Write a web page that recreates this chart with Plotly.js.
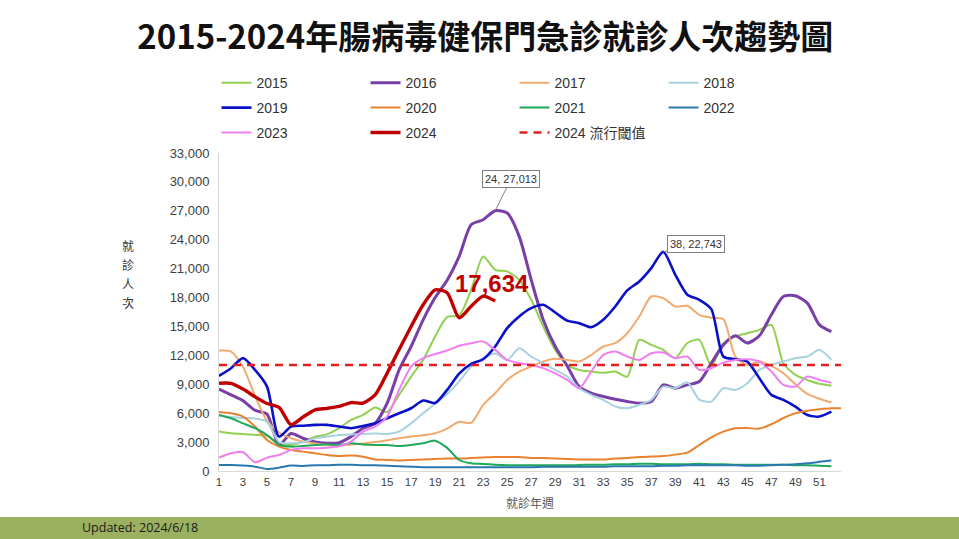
<!DOCTYPE html>
<html><head><meta charset="utf-8">
<script src="https://cdn.plot.ly/plotly-3.0.1.min.js"></script>
<style>html,body{margin:0;padding:0;background:#fff;}#chart{width:959px;height:539px;}</style>
</head><body><div id="chart"></div>
<script>
const weeks = [1,2,3,4,5,6,7,8,9,10,11,12,13,14,15,16,17,18,19,20,21,22,23,24,25,26,27,28,29,30,31,32,33,34,35,36,37,38,39,40,41,42,43,44,45,46,47,48,49,50,51,52,53];
const weekTicks = [1,3,5,7,9,11,13,15,17,19,21,23,25,27,29,31,33,35,37,39,41,43,45,47,49,51];
const yTicks = [0,3000,6000,9000,12000,15000,18000,21000,24000,27000,30000,33000];

const s2015 = [4090,3910,3850,3740,3640,2870,2700,3050,3560,3800,4440,5300,5820,6580,6100,7900,9800,11530,13950,16000,16150,18800,22270,20880,20710,19840,17770,14990,12570,11000,10490,10320,10200,10320,9800,13610,13090,12570,11710,13280,13610,10900,13200,13950,14300,14650,15170,11190,9970,9450,9050,8850];
const s2016 = [8500,7900,7300,6300,5900,2700,3900,3400,3000,2880,2940,3570,4440,4950,7030,10490,12920,15690,18000,19800,22270,25560,26080,27013,26770,24350,19840,15690,12920,10900,8760,8070,7730,7450,7210,7030,7210,8940,8590,8940,9280,11190,13090,14030,13280,14030,16210,18110,18180,17420,15170,14470];
const s2017 = [12500,12400,10800,7800,5200,4000,3400,3050,2850,2700,2650,2750,2850,3000,3200,3400,3570,3700,3910,4400,5100,5000,6860,8070,9450,10320,10840,11360,11640,11530,11360,12040,12920,13280,14300,16030,18110,17940,17070,17140,16210,15900,15760,11880,11000,11360,10900,10140,9000,8000,7500,7100];
const s2018 = [5700,5600,5500,5450,5100,3000,2870,2980,3390,3570,3740,3800,3850,3900,3850,4100,4950,5990,7000,8000,9280,10840,11710,12200,11500,12740,11880,11190,10490,9800,8590,7900,7380,6700,6510,6860,7380,8760,8590,9200,7400,7200,8590,8420,9110,10490,11010,11360,11710,11880,12570,11530];
const s2019 = [9870,10670,11710,10490,8760,3570,4600,4700,4790,4790,4610,4440,4680,4950,5470,5990,6510,7310,7050,8420,10100,11120,11600,12920,14820,16040,16900,17250,16450,15600,15340,14930,15690,17070,18740,19670,21060,22743,20360,18300,17770,16800,11880,11600,11360,9630,7900,7380,6680,5820,5650,6160];
const s2020 = [6090,5990,5650,4610,3220,2530,2180,2010,1840,1660,1560,1600,1490,1200,1150,1100,1150,1200,1250,1300,1300,1350,1400,1450,1450,1450,1350,1350,1300,1250,1200,1200,1200,1300,1350,1450,1500,1550,1700,1900,2700,3500,4090,4430,4450,4400,4850,5500,5990,6250,6400,6500,6510];
const s2021 = [5820,5470,4950,4440,3740,2700,2530,2600,2700,2770,2700,2870,2750,2700,2700,2600,2700,2870,3150,2400,1140,800,730,650,600,600,600,600,600,600,620,650,650,700,700,750,750,700,700,700,750,700,700,650,650,650,650,650,600,600,550,500];
const s2022 = [620,620,560,450,210,350,560,520,600,600,650,650,600,600,550,500,450,400,400,400,400,400,400,400,400,400,400,450,450,450,450,450,450,500,500,500,500,550,550,600,600,600,600,600,550,550,600,650,700,800,950,1100];
const s2023 = [1390,1840,1950,900,1390,1660,2180,2350,2350,2420,2560,3050,4090,4610,5640,8420,10840,11710,12150,12500,13000,13260,13440,12570,11530,11190,11010,10670,10140,9450,8590,10320,12050,12400,11880,11530,12220,12290,11710,11880,10490,10670,11250,11530,11600,11360,10320,8940,8770,9800,9450,9170];
const s2024 = [9100,9100,8500,7700,7000,6600,4800,5600,6350,6500,6700,7100,7050,7900,10150,12600,15000,17250,18800,18500,15900,17100,18150,17634];
const threshold2024 = 11000;

const seriesNames = ['2015','2016','2017','2018','2019','2020','2021','2022','2023','2024'];
const seriesData = [s2015,s2016,s2017,s2018,s2019,s2020,s2021,s2022,s2023,s2024];
const seriesColors = ['#92D050','#7A3FA6','#F2AA6E','#A8D2E0','#0A10C8','#E8822E','#20A85A','#2A78B0','#F07EF0','#C00000'];
const seriesWidths = [2,3,2,2,2.6,2,2,2,2,3.4];
const seriesLegend = ['legend','legend','legend','legend','legend2','legend2','legend2','legend2','legend3','legend3'];

const traces = seriesNames.map((n,i)=>({
  type:'scatter', mode:'lines', name:n,
  x: weeks.slice(0, seriesData[i].length), y: seriesData[i],
  line:{color:seriesColors[i], width:seriesWidths[i], shape:'spline', smoothing:0.7},
  legend: seriesLegend[i], hoverinfo:'x+y'
}));
traces.push({
  type:'scatter', mode:'lines', name:'2024 流行閾值',
  x:[weeks[0], 52.8], y:[threshold2024, threshold2024],
  line:{color:'#E02020', width:2.5, dash:'8px,6px'}, legend:'legend3'
});

const font = '"Liberation Sans", Arial, "Noto Sans CJK TC", sans-serif';
const legBase = {orientation:'h', x:-0.004, xanchor:'left', yanchor:'middle',
  entrywidth:104, entrywidthmode:'pixels', bgcolor:'rgba(0,0,0,0)',
  font:{family:font, size:14, color:'#333'}, tracegroupgap:0, itemclick:false};

const layout = {
  width:959, height:539,
  margin:{l:219, r:118, t:153, b:68},
  paper_bgcolor:'#fff', plot_bgcolor:'#fff',
  title:{text:'2015-2024年腸病毒健保門急診就診人次趨勢圖', xref:'container', x:0.506, xanchor:'center',
    yref:'container', y:0.931, yanchor:'middle',
    font:{family:'"Noto Sans CJK TC", "Noto Sans CJK SC", sans-serif', size:33, color:'#111', weight:700}},
  xaxis:{range:[1,52.8], tickvals:weekTicks, ticks:'', showgrid:false, zeroline:false,
    showline:true, linecolor:'#D9D9D9', linewidth:1,
    tickfont:{family:font, size:11.5, color:'#404040'},
    title:{text:'就診年週', font:{family:'"Noto Sans CJK TC", sans-serif', size:12, color:'#595959'}, standoff:12}},
  yaxis:{range:[0,33000], tickvals:yTicks, tickformat:',', ticks:'', showgrid:false, zeroline:false,
    showline:true, linecolor:'#D9D9D9', linewidth:1, ticklabelstandoff:6,
    tickfont:{family:font, size:13, color:'#404040'}},
  legend:Object.assign({}, legBase, {y:1.220}),
  legend2:Object.assign({}, legBase, {y:1.1415}),
  legend3:Object.assign({}, legBase, {y:1.063}),
  shapes:[{type:'rect', xref:'paper', yref:'paper', x0:-0.4, x1:1.3, y0:-0.1447, y1:-0.3,
    fillcolor:'#9CB15F', line:{width:0}, layer:'below'}],
  annotations:[
    {xref:'paper', yref:'paper', x:-0.147, y:0.62, xanchor:'center', yanchor:'middle', showarrow:false,
     text:'<span style="font-size:12px">就</span><br><span style="font-size:12px">診</span><br><span style="font-size:12px">人</span><br><span style="font-size:12px">次</span>',
     font:{family:'"Noto Sans CJK TC", sans-serif', size:14.6, color:'#333'}},
    {x:weeks[23], y:s2016[23], text:'24, 27,013', showarrow:true, arrowhead:0, arrowwidth:1, arrowcolor:'#7F7F7F',
     ax:16, ay:-32, bordercolor:'#7F7F7F', borderwidth:1, borderpad:2, bgcolor:'#fff',
     font:{family:font, size:11, color:'#333'}},
    {x:weeks[37], y:s2019[37], text:'38, 22,743', showarrow:true, arrowhead:0, arrowwidth:1, arrowcolor:'#7F7F7F',
     ax:33, ay:-8, bordercolor:'#7F7F7F', borderwidth:1, borderpad:2, bgcolor:'#fff',
     font:{family:font, size:11, color:'#333'}},
    {x:23.7, y:19500, text:'<b>17,634</b>', showarrow:false,
     font:{family:'"Liberation Sans", Arial, sans-serif', size:24, color:'#C00000'}},
    {xref:'paper', yref:'paper', x:-0.2235, y:-0.179, xanchor:'left', yanchor:'middle', showarrow:false,
     text:'Updated: 2024/6/18', font:{family:'"Liberation Sans Narrow", "Open Sans", sans-serif', size:12.5, color:'#1a1a1a'}}
  ]
};
Plotly.newPlot('chart', traces, layout, {displayModeBar:false, staticPlot:true});
</script></body></html>
